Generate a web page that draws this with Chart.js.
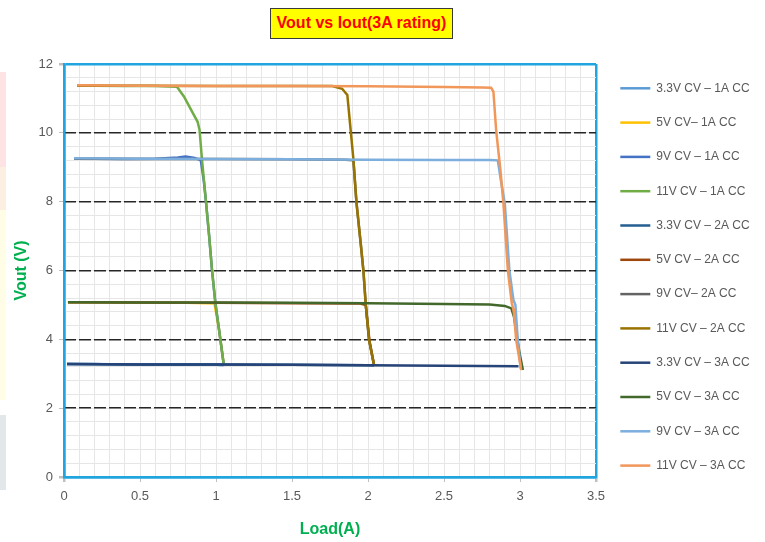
<!DOCTYPE html>
<html>
<head>
<meta charset="utf-8">
<script src="https://cdn.jsdelivr.net/npm/chart.js@4.4.1/dist/chart.umd.min.js"></script>
<style>
  html, body { margin: 0; padding: 0; background: #ffffff; }
  #wrap { position: relative; width: 765px; height: 542px; overflow: hidden; background: #ffffff; }
  #c { position: absolute; left: 0; top: 0; }
  .band { position: absolute; left: 0; width: 6px; }
  #title {
    position: absolute; left: 270px; top: 8px; width: 183px; height: 31px;
    box-sizing: border-box; background: #FFFF00; border: 1.5px solid #3a3a3a;
    color: #FF0000; font-family: "Liberation Sans", Arial, sans-serif;
    font-weight: bold; font-size: 16px; line-height: 28px; text-align: center; white-space: nowrap;
  }
</style>
</head>
<body>
<div id="wrap">
  <div class="band" style="top:72px;height:95px;background:#fde3e3;"></div>
  <div class="band" style="top:167px;height:43px;background:#fdeee2;"></div>
  <div class="band" style="top:210px;height:190px;background:#fffde6;"></div>
  <div class="band" style="top:415px;height:75px;background:#e2e7ea;"></div>
  <canvas id="c" width="765" height="542"></canvas>
  <div id="title">Vout vs Iout(3A rating)</div>
</div>
<script>
// ---- Data (Load in A, Vout in V) ----
const seriesNames = [
  "3.3V CV \u2013 1A CC", "5V CV\u2013 1A CC", "9V CV \u2013 1A CC", "11V CV \u2013 1A CC",
  "3.3V CV \u2013 2A CC", "5V CV \u2013 2A CC", "9V CV\u2013 2A CC", "11V CV \u2013 2A CC",
  "3.3V CV \u2013 3A CC", "5V CV \u2013 3A CC", "9V CV \u2013 3A CC", "11V CV \u2013 3A CC"
];
const seriesColors = [
  "#5B9BD5", "#FFC000", "#4472C4", "#70AD47",
  "#255E91", "#9E480E", "#636363", "#997300",
  "#264478", "#43682B", "#7CAFDD", "#F1975A"
];

// 1A CC
const load_33V_1A = [0.02, 0.2, 0.4, 0.6, 0.8, 1.0, 1.05];
const vout_33V_1A = [3.28, 3.28, 3.27, 3.27, 3.26, 3.26, 3.25];
const load_5V_1A  = [0.026, 0.2, 0.4, 0.6, 0.8, 0.95, 0.99, 1.02, 1.05];
const vout_5V_1A  = [5.08, 5.08, 5.07, 5.07, 5.06, 5.05, 5.04, 4.28, 3.3];
const load_9V_1A  = [0.066, 0.2, 0.4, 0.6, 0.75, 0.8, 0.86, 0.9, 0.92, 0.934, 0.955, 0.974, 0.996, 1.02, 1.05];
const vout_9V_1A  = [9.25, 9.25, 9.24, 9.25, 9.28, 9.31, 9.27, 9.2, 8.6, 8.0, 7.0, 6.0, 5.05, 4.28, 3.3];
const load_11V_1A = [0.086, 0.2, 0.4, 0.6, 0.743, 0.79, 0.831, 0.879, 0.892, 0.907, 0.934, 0.955, 0.974, 0.996, 1.02, 1.05];
const vout_11V_1A = [11.37, 11.37, 11.36, 11.36, 11.34, 11.05, 10.71, 10.32, 10.08, 9.26, 8.0, 7.0, 6.0, 5.05, 4.28, 3.3];
// 2A CC
const load_33V_2A = [0.02, 0.5, 1.0, 1.5, 2.0, 2.04];
const vout_33V_2A = [3.28, 3.27, 3.27, 3.26, 3.25, 3.24];
const load_5V_2A  = [0.026, 0.5, 1.0, 1.5, 1.95, 1.985, 2.01, 2.04];
const vout_5V_2A  = [5.08, 5.07, 5.06, 5.05, 5.04, 5.0, 3.95, 3.25];
const load_9V_2A  = [0.066, 0.5, 1.0, 1.5, 1.85, 1.904, 1.924, 1.952, 1.97, 1.985, 2.007, 2.04];
const vout_9V_2A  = [9.25, 9.24, 9.24, 9.23, 9.22, 9.2, 7.98, 6.79, 5.98, 5.02, 3.98, 3.25];
const load_11V_2A = [0.086, 0.5, 1.0, 1.5, 1.765, 1.83, 1.864, 1.887, 1.904, 1.924, 1.952, 1.97, 1.985, 2.007, 2.04];
const vout_11V_2A = [11.37, 11.37, 11.36, 11.36, 11.36, 11.28, 11.1, 10.03, 9.23, 7.98, 6.79, 5.98, 5.02, 3.98, 3.25];
// 3A CC
const load_33V_3A = [0.02, 0.5, 1.0, 1.5, 2.0, 2.5, 2.99];
const vout_33V_3A = [3.28, 3.27, 3.27, 3.26, 3.25, 3.23, 3.22];
const load_5V_3A  = [0.026, 0.5, 1.0, 1.5, 2.0, 2.5, 2.8, 2.9, 2.943, 2.96, 2.997, 3.019];
const vout_5V_3A  = [5.08, 5.07, 5.07, 5.06, 5.05, 5.03, 5.01, 4.97, 4.9, 4.66, 3.6, 3.11];
const load_9V_3A  = [0.066, 0.5, 1.0, 1.5, 2.0, 2.5, 2.8, 2.854, 2.875, 2.9, 2.93, 2.957, 2.97, 2.985, 3.005];
const vout_9V_3A  = [9.26, 9.25, 9.24, 9.23, 9.22, 9.21, 9.21, 9.2, 8.6, 7.95, 6.01, 5.14, 5.0, 4.0, 3.15];
const load_11V_3A = [0.086, 0.5, 1.0, 1.5, 2.0, 2.5, 2.75, 2.81, 2.825, 2.843, 2.871, 2.891, 2.92, 2.946, 2.955, 2.96, 2.975, 3.008];
const vout_11V_3A = [11.38, 11.37, 11.36, 11.36, 11.35, 11.33, 11.32, 11.31, 11.2, 10.08, 8.92, 7.95, 6.01, 5.05, 4.9, 4.76, 3.98, 3.11];

const loads = [load_33V_1A, load_5V_1A, load_9V_1A, load_11V_1A, load_33V_2A, load_5V_2A, load_9V_2A, load_11V_2A, load_33V_3A, load_5V_3A, load_9V_3A, load_11V_3A];
const vouts = [vout_33V_1A, vout_5V_1A, vout_9V_1A, vout_11V_1A, vout_33V_2A, vout_5V_2A, vout_9V_2A, vout_11V_2A, vout_33V_3A, vout_5V_3A, vout_9V_3A, vout_11V_3A];

// axis ranges / tick steps
const xMin = 0, xMax = 3.5, xMinorStep = 0.1, xMajorStep = 0.5;
const yMin = 0, yMax = 12, yMinorStep = 0.4, yMajorStep = 2;

const FONT = '"Liberation Sans", Arial, sans-serif';
const FRAME = '#21A5DF';
const MINOR = '#E6E6E6';
const isMultiple = (v, step) => Math.abs(v / step - Math.round(v / step)) < 1e-6;
const near = (a, b) => Math.abs(a - b) < 1e-6;

const datasets = seriesNames.map((name, i) => ({
  label: name,
  data: loads[i].map((x, j) => ({ x: x, y: vouts[i][j] })),
  borderColor: seriesColors[i],
  backgroundColor: seriesColors[i],
  borderWidth: 2.5,
  showLine: true,
  pointRadius: 0,
  pointHoverRadius: 0,
  tension: 0,
  order: seriesNames.length - i
}));

const legendFix = {
  id: 'legendFix',
  afterInit(chart) {
    const lg = chart.legend;
    if (!lg) return;
    const orig = lg.fit;
    lg.fit = function () { orig.call(this); this.width = 169; };
  },
  afterLayout(chart) {
    const lg = chart.legend;
    if (!lg) return;
    lg.left += 2; lg.right += 2;
  }
};

new Chart(document.getElementById('c'), {
  type: 'scatter',
  data: { datasets },
  plugins: [legendFix],
  options: {
    responsive: false,
    animation: false,
    events: [],
    layout: { padding: { top: 60, right: 0, bottom: 0, left: 0 } },
    plugins: {
      tooltip: { enabled: false },
      title: { display: false },
      legend: {
        position: 'right',
        align: 'start',
        labels: {
          usePointStyle: true,
          pointStyle: 'line',
          pointStyleWidth: 30,
          color: '#595959',
          font: { family: FONT, size: 12 },
          padding: 22.3,
          sort: (a, b) => a.datasetIndex - b.datasetIndex
        }
      }
    },
    scales: {
      x: {
        type: 'linear', position: 'bottom', min: xMin, max: xMax,
        afterFit: (s) => { s.height = 65; },
        ticks: {
          stepSize: xMinorStep, autoSkip: false, maxRotation: 0, padding: 7,
          color: '#595959', font: { family: FONT, size: 13 },
          callback: (v) => isMultiple(v, xMajorStep) ? String(Math.round(v * 10) / 10) : ''
        },
        grid: {
          color: (ctx) => (ctx.tick && (near(ctx.tick.value, xMin) || near(ctx.tick.value, xMax))) ? FRAME : MINOR,
          lineWidth: (ctx) => (ctx.tick && (near(ctx.tick.value, xMin) || near(ctx.tick.value, xMax))) ? 2.5 : 1,
          tickColor: (ctx) => (ctx.tick && isMultiple(ctx.tick.value, xMajorStep)) ? '#BFBFBF' : 'rgba(0,0,0,0)',
          tickLength: 5
        },
        border: { display: true, color: FRAME, width: 2.5 },
        title: {
          display: true, text: 'Load(A)', color: '#00B050',
          font: { family: FONT, size: 16, weight: 'bold' },
          padding: { top: 0, bottom: 3 }
        }
      },
      xTop: {
        type: 'linear', position: 'top', min: xMin, max: xMax, display: true,
        afterFit: (s) => { s.height = 4; },
        ticks: { display: false },
        grid: { display: false, drawTicks: false },
        border: { display: false }
      },
      y: {
        type: 'linear', position: 'left', min: yMin, max: yMax,
        afterFit: (s) => { s.width = 64; },
        ticks: {
          stepSize: yMinorStep, autoSkip: false, padding: 6,
          color: '#595959', font: { family: FONT, size: 13 },
          callback: (v) => isMultiple(v, yMajorStep) ? String(Math.round(v)) : ''
        },
        grid: {
          color: (ctx) => (ctx.tick && (near(ctx.tick.value, yMax) || near(ctx.tick.value, yMin))) ? FRAME : MINOR,
          lineWidth: (ctx) => (ctx.tick && (near(ctx.tick.value, yMax) || near(ctx.tick.value, yMin))) ? 2.5 : 1,
          tickColor: (ctx) => (ctx.tick && isMultiple(ctx.tick.value, yMajorStep)) ? '#BFBFBF' : 'rgba(0,0,0,0)',
          tickLength: 5
        },
        border: { display: true, color: FRAME, width: 2.5 },
        title: {
          display: true, text: 'Vout (V)', color: '#00B050',
          font: { family: FONT, size: 16, weight: 'bold' },
          padding: { top: 12, bottom: 0 }
        }
      },
      yMajor: {
        type: 'linear', position: 'left', min: yMin, max: yMax, display: true,
        afterFit: (s) => { s.width = 0; },
        ticks: { display: false, stepSize: yMajorStep },
        grid: {
          drawTicks: false,
          color: (ctx) => (ctx.tick && ctx.tick.value > yMin + 1e-6 && ctx.tick.value < yMax - 1e-6) ? '#262626' : 'rgba(0,0,0,0)',
          lineWidth: 1.5
        },
        border: { display: false, dash: [12, 3] }
      }
    }
  }
});
</script>
</body>
</html>
